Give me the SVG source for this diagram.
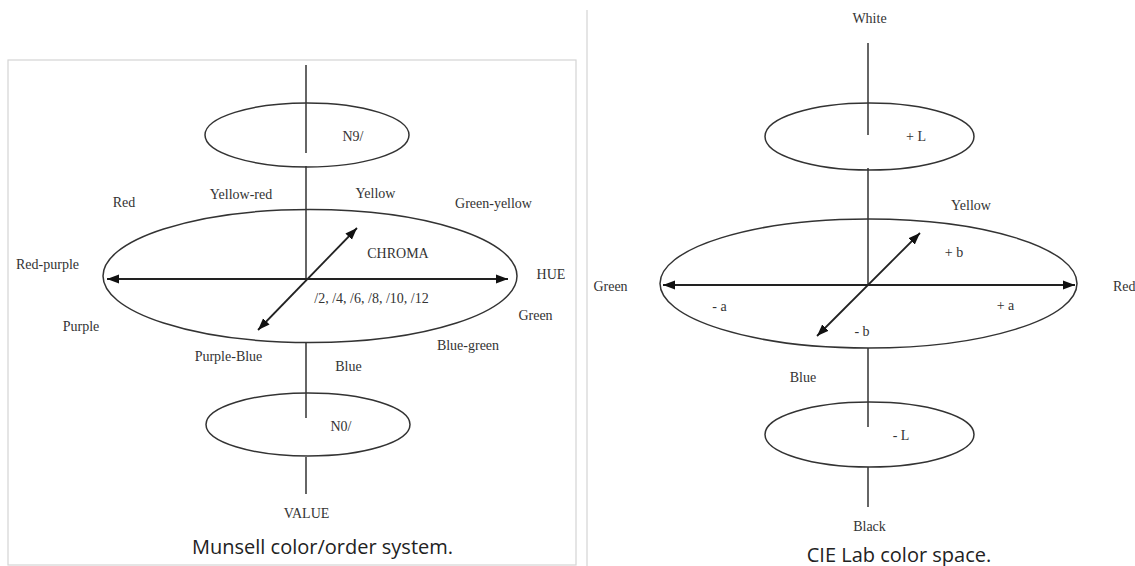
<svg xmlns="http://www.w3.org/2000/svg" width="1135" height="566" viewBox="0 0 1135 566">
<style>
.lbl{font-family:"Liberation Serif","Times New Roman",serif;font-size:14px;fill:#333;text-anchor:middle}
.cap{font-family:"Open Sans","Noto Sans",sans-serif;font-size:20px;fill:#222;text-anchor:middle}
.shape{fill:none;stroke:#333;stroke-width:1.5}
.ax{stroke:#333;stroke-width:1.5;fill:none}
.arr{stroke:#222;stroke-width:1.8;fill:none;marker-start:url(#ah);marker-end:url(#ah)}
.frame{fill:none;stroke:#d4d4d4;stroke-width:1.2}
</style>
<defs>
<marker id="ah" markerUnits="userSpaceOnUse" markerWidth="13" markerHeight="10" refX="12" refY="5" orient="auto-start-reverse" viewBox="0 0 13 10">
<path d="M0,0.5 L12,5 L0,9.5 z" fill="#111"/>
</marker>
</defs>
<rect width="1135" height="566" fill="#fff"/>
<g id="frames">
<rect class="frame" x="8" y="60" width="568" height="505"/>
<line class="frame" x1="587" y1="10" x2="587" y2="566"/>
</g>
<g id="connectors">
<line class="ax" x1="306" y1="65" x2="306" y2="153"/>
<line class="ax" x1="306" y1="166" x2="306" y2="279"/>
<line class="ax" x1="306" y1="342" x2="306" y2="418"/>
<line class="ax" x1="306" y1="457" x2="306" y2="494"/>
<line class="arr" x1="107" y1="279" x2="508" y2="279"/>
<line class="arr" x1="258" y1="330" x2="357" y2="228"/>
<line class="ax" x1="868" y1="43" x2="868" y2="135"/>
<line class="ax" x1="868" y1="168" x2="868" y2="285"/>
<line class="ax" x1="868" y1="348" x2="868" y2="427"/>
<line class="ax" x1="868" y1="467" x2="868" y2="507"/>
<line class="arr" x1="663" y1="285" x2="1075" y2="285"/>
<line class="arr" x1="817" y1="336" x2="920" y2="233"/>
</g>
<g id="munsell-n9">
<ellipse class="shape" cx="307" cy="135" rx="102" ry="32"/>
<text class="lbl" x="353" y="141">N9/</text>
</g>
<g id="munsell-hue">
<ellipse class="shape" cx="310" cy="276" rx="207" ry="66.5"/>
<text class="lbl" x="398" y="258">CHROMA</text>
<text class="lbl" x="371.5" y="303">/2, /4, /6, /8, /10, /12</text>
</g>
<g id="munsell-n0">
<ellipse class="shape" cx="308" cy="424.5" rx="102" ry="31.5"/>
<text class="lbl" x="341" y="431">N0/</text>
</g>
<g id="munsell-labels">
<text class="lbl" x="241" y="199">Yellow-red</text>
<text class="lbl" x="375.5" y="198">Yellow</text>
<text class="lbl" x="124" y="207">Red</text>
<text class="lbl" x="493.5" y="208">Green-yellow</text>
<text class="lbl" x="47.5" y="269">Red-purple</text>
<text class="lbl" x="551" y="279">HUE</text>
<text class="lbl" x="535.5" y="320">Green</text>
<text class="lbl" x="81" y="331">Purple</text>
<text class="lbl" x="228.5" y="361">Purple-Blue</text>
<text class="lbl" x="468" y="350">Blue-green</text>
<text class="lbl" x="348.5" y="371">Blue</text>
<text class="lbl" x="306.5" y="518">VALUE</text>
<text class="cap" x="322.5" y="554">Munsell color/order system.</text>
</g>
<g id="lab-plusL">
<ellipse class="shape" cx="869.5" cy="136.5" rx="104.5" ry="33.5"/>
<text class="lbl" x="916" y="141">+ L</text>
</g>
<g id="lab-ab">
<ellipse class="shape" cx="868.5" cy="283.5" rx="208.5" ry="64.5"/>
<text class="lbl" x="954" y="257">+ b</text>
<text class="lbl" x="719.5" y="311">- a</text>
<text class="lbl" x="1005.5" y="310">+ a</text>
<text class="lbl" x="862" y="336">- b</text>
</g>
<g id="lab-minusL">
<ellipse class="shape" cx="869.5" cy="434.5" rx="104.5" ry="32.5"/>
<text class="lbl" x="901" y="440">- L</text>
</g>
<g id="lab-labels">
<text class="lbl" x="869.5" y="23">White</text>
<text class="lbl" x="971" y="210">Yellow</text>
<text class="lbl" x="610.5" y="291">Green</text>
<text class="lbl" x="1113" y="291" style="text-anchor:start">Red</text>
<text class="lbl" x="803" y="382">Blue</text>
<text class="lbl" x="869.5" y="531">Black</text>
<text class="cap" x="899" y="562">CIE Lab color space.</text>
</g>
</svg>
